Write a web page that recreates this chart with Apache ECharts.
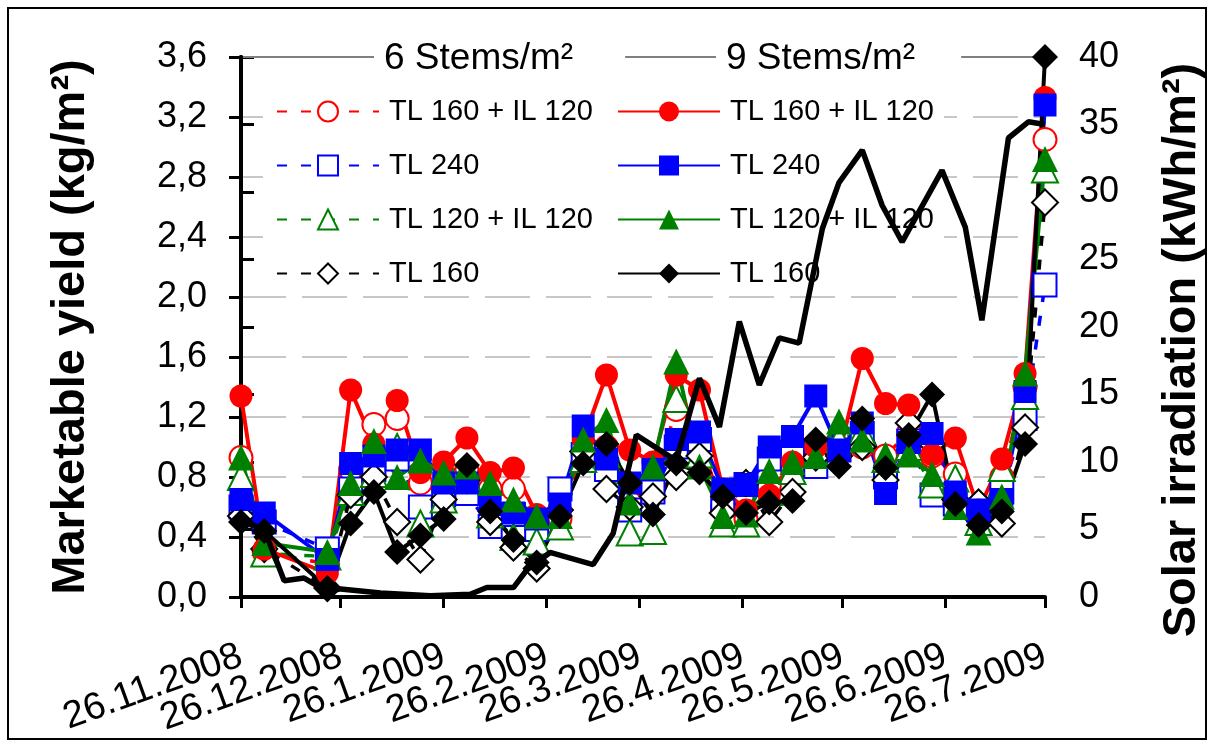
<!DOCTYPE html>
<html>
<head>
<meta charset="utf-8">
<script src="https://cdn.jsdelivr.net/npm/echarts@6/dist/echarts.min.js"></script>
<style>
  html, body { margin: 0; padding: 0; background: #fff; }
  #chart { width: 1214px; height: 747px; }
</style>
</head>
<body>
<div id="chart"></div>
<script>
// sample dates of the yield harvests
const sampleDates = [
  '2008-11-26', '2008-12-03', '2008-12-22', '2008-12-29', '2009-01-05', '2009-01-12',
  '2009-01-19', '2009-01-26', '2009-02-02', '2009-02-09', '2009-02-16', '2009-02-23',
  '2009-03-02', '2009-03-09', '2009-03-16', '2009-03-23', '2009-03-30', '2009-04-06',
  '2009-04-13', '2009-04-20', '2009-04-27', '2009-05-04', '2009-05-11', '2009-05-18',
  '2009-05-25', '2009-06-01', '2009-06-08', '2009-06-15', '2009-06-22', '2009-06-29',
  '2009-07-06', '2009-07-13', '2009-07-20', '2009-07-26'
]

// 6 stems/m2
const six_TL160_IL120 = [0.93, 0.30, 0.22, 0.85, 1.15, 1.19, 0.76, 0.72, 0.85, 0.72, 0.72, 0.45,
  0.52, 0.95, 1.00, 0.63, 0.75, 1.25, 1.05, 0.60, 0.52, 0.74, 0.85, 0.90, 0.95, 1.00, 0.94, 1.10,
  0.94, 0.82, 0.55, 0.80, 1.40, 3.05]
const six_TL240 = [0.60, 0.50, 0.32, 0.72, 0.85, 0.92, 0.60, 0.68, 0.69, 0.47, 0.55, 0.45,
  0.72, 0.95, 0.85, 0.58, 0.70, 1.00, 1.05, 0.63, 0.75, 0.92, 0.96, 0.87, 0.98, 1.09, 0.80, 1.04,
  0.68, 0.62, 0.58, 0.70, 1.19, 2.08]
const six_TL120_IL120 = [0.80, 0.29, 0.27, 0.70, 0.82, 1.00, 0.49, 0.65, 0.80, 0.55, 0.40, 0.37,
  0.47, 0.92, 0.95, 0.43, 0.44, 1.32, 0.95, 0.49, 0.49, 0.70, 0.84, 0.95, 1.05, 1.10, 0.92, 1.00,
  0.75, 0.79, 0.50, 0.86, 1.34, 2.85]
const six_TL160 = [0.54, 0.32, 0.06, 0.68, 0.80, 0.50, 0.25, 0.65, 0.78, 0.50, 0.33, 0.19,
  0.58, 0.97, 0.72, 0.60, 0.67, 0.80, 0.94, 0.56, 0.76, 0.50, 0.70, 0.93, 0.94, 1.00, 0.78, 1.16,
  1.02, 0.65, 0.63, 0.49, 1.13, 2.63]

// 9 stems/m2
const nine_TL160_IL120 = [1.34, 0.32, 0.16, 1.38, 1.02, 1.31, 0.83, 0.90, 1.06, 0.83, 0.86, 0.55,
  0.60, 1.05, 1.48, 0.98, 0.90, 1.48, 1.38, 0.72, 0.58, 0.68, 0.90, 1.00, 0.95, 1.59, 1.29, 1.28,
  0.95, 1.06, 0.58, 0.92, 1.49, 3.33]
const nine_TL240 = [0.65, 0.56, 0.25, 0.89, 0.94, 0.98, 0.98, 0.76, 0.76, 0.63, 0.56, 0.52,
  0.62, 1.14, 0.92, 0.76, 0.85, 1.05, 1.10, 0.72, 0.75, 1.00, 1.07, 1.34, 0.98, 1.16, 0.69, 1.03,
  1.09, 0.70, 0.58, 0.65, 1.37, 3.28]
const nine_TL120_IL120 = [0.93, 0.36, 0.30, 0.76, 1.04, 0.80, 0.91, 0.83, 0.87, 0.76, 0.65, 0.54,
  0.54, 1.05, 1.18, 0.63, 0.87, 1.57, 0.87, 0.54, 0.55, 0.84, 0.90, 0.94, 1.17, 1.05, 0.95, 0.95,
  0.82, 0.60, 0.43, 0.67, 1.49, 2.92]
const nine_TL160 = [0.50, 0.44, 0.06, 0.49, 0.70, 0.30, 0.41, 0.52, 0.88, 0.57, 0.38, 0.23,
  0.54, 0.89, 1.02, 0.76, 0.55, 0.89, 0.83, 0.67, 0.56, 0.63, 0.64, 1.05, 0.87, 1.19, 0.86, 1.08,
  1.35, 0.62, 0.48, 0.57, 1.02, 3.60]

// solar irradiation (kWh/m2)
const solarDates = [
  '2008-11-26', '2008-12-03', '2008-12-09', '2008-12-15', '2008-12-22', '2008-12-26',
  '2009-01-07', '2009-01-22', '2009-02-03', '2009-02-08', '2009-02-16', '2009-02-20',
  '2009-02-27', '2009-03-12', '2009-03-18', '2009-03-25', '2009-04-06', '2009-04-13',
  '2009-04-19', '2009-04-25', '2009-05-01', '2009-05-07', '2009-05-13', '2009-05-20',
  '2009-05-25', '2009-06-01', '2009-06-07', '2009-06-13', '2009-06-25', '2009-07-02',
  '2009-07-07', '2009-07-15', '2009-07-21', '2009-07-26'
]
const solar = [5.7, 5.0, 1.2, 1.4, 0.4, 0.6, 0.3, 0.1, 0.2, 0.7, 0.7, 2.0,
  3.3, 2.4, 4.7, 12.0, 10.1, 16.2, 12.6, 20.4, 15.7, 19.2, 18.8, 27.3,
  30.7, 33.1, 29.0, 26.3, 31.6, 27.4, 20.5, 34.0, 35.2, 35.0]

const tickDates = ['2008-11-26', '2008-12-26', '2009-01-26', '2009-02-26', '2009-03-26',
  '2009-04-26', '2009-05-26', '2009-06-26', '2009-07-26']

const FONT = 'Liberation Sans, Arial, sans-serif'
const T0 = Date.UTC(2008, 10, 26)

// days since 26.11.2008
function dayOf(s) {
  const p = s.split('-').map(Number)
  return (Date.UTC(p[0], p[1] - 1, p[2]) - T0) / 864e5
}
function dayLabel(v) {
  const t = new Date(T0 + v * 864e5)
  return t.getUTCDate() + '.' + (t.getUTCMonth() + 1) + '.' + t.getUTCFullYear()
}

function yieldSeries(key, values, color, symbol, open) {
  const size = symbol === 'circle' || symbol === 'rect' ? 23 : 26
  return {
    name: key,
    type: 'line',
    data: sampleDates.map((d, i) => [dayOf(d), values[i]]),
    symbol: symbol,
    symbolSize: size,
    showAllSymbol: true,
    lineStyle: { color: color, width: open ? 3.5 : 4, type: open ? [10, 14] : 'solid' },
    itemStyle: open ? { color: '#fff', borderColor: color, borderWidth: 2 } : { color: color },
    emphasis: { disabled: true },
    z: 2
  }
}

const series = [
  yieldSeries('6|TL 160 + IL 120', six_TL160_IL120, '#ff0000', 'circle', true),
  yieldSeries('6|TL 240', six_TL240, '#0000ff', 'rect', true),
  yieldSeries('6|TL 120 + IL 120', six_TL120_IL120, '#008000', 'triangle', true),
  yieldSeries('6|TL 160', six_TL160, '#000000', 'diamond', true),
  yieldSeries('9|TL 160 + IL 120', nine_TL160_IL120, '#ff0000', 'circle', false),
  yieldSeries('9|TL 240', nine_TL240, '#0000ff', 'rect', false),
  yieldSeries('9|TL 120 + IL 120', nine_TL120_IL120, '#008000', 'triangle', false),
  yieldSeries('9|TL 160', nine_TL160, '#000000', 'diamond', false),
  {
    name: 'Solar',
    type: 'line',
    yAxisIndex: 1,
    data: solarDates.map((d, i) => [dayOf(d), solar[i]]),
    symbol: 'none',
    lineStyle: { color: '#000', width: 5.5 },
    emphasis: { disabled: true },
    z: 3
  }
]

const legendBase = {
  orient: 'vertical',
  top: 91,
  itemWidth: 102,
  itemHeight: 25,
  itemGap: 25,
  padding: [6, 10, 6, 13],
  backgroundColor: '#fff',
  selectedMode: false,
  z: 1,
  formatter: n => n.split('|')[1],
  textStyle: { fontFamily: FONT, fontSize: 29, color: '#000', padding: [0, 0, 0, 5] }
}

// the tick labels overlap each other, so they are split over two axes
// (every other date) to keep ECharts from hiding any of them
const tickDays = tickDates.map(dayOf)
function dateAxis(labelDays, main) {
  return {
    type: 'value',
    position: 'bottom',
    min: 0,
    max: tickDays[tickDays.length - 1],
    axisLine: { show: main, lineStyle: { color: '#000', width: 4 } },
    axisTick: {
      show: main, length: 11, lineStyle: { color: '#000', width: 3 },
      customValues: tickDays
    },
    axisLabel: {
      customValues: labelDays,
      showMinLabel: true,
      showMaxLabel: true,
      hideOverlap: false,
      formatter: v => dayLabel(v),
      rotate: 20,
      margin: 58,
      fontFamily: FONT,
      fontSize: 38,
      color: '#000'
    },
    splitLine: { show: false }
  }
}

const chart = echarts.init(document.getElementById('chart'))
chart.setOption({
  animation: false,
  backgroundColor: '#fff',
  grid: {
    left: 241, right: 169, top: 57, bottom: 150,
    containLabel: false, outerBoundsMode: 'none'
  },
  legend: [
    Object.assign({}, legendBase, { left: 263, data: series.slice(0, 4).map(s => s.name) }),
    Object.assign({}, legendBase, { left: 604, data: series.slice(4, 8).map(s => s.name) })
  ],
  xAxis: [
    dateAxis(tickDays.filter((d, i) => i % 2 === 0), true),
    dateAxis(tickDays.filter((d, i) => i % 2 === 1), false)
  ],
  yAxis: [
    {
      type: 'value',
      min: 0, max: 3.6, interval: 0.4,
      name: 'Marketable yield (kg/m²)',
      nameLocation: 'middle',
      nameGap: 146,
      nameRotate: 90,
      nameTextStyle: { fontFamily: FONT, fontSize: 47, fontWeight: 'bold', color: '#000' },
      axisLine: { show: true, lineStyle: { color: '#000', width: 4 } },
      axisTick: { show: true, length: 12, lineStyle: { color: '#000', width: 3 } },
      axisLabel: {
        formatter: v => v.toFixed(1).replace('.', ','),
        margin: 34, fontFamily: FONT, fontSize: 36, color: '#000'
      },
      splitLine: { show: true, lineStyle: { color: '#c8c8c8', width: 2, type: [45, 16] } }
    },
    {
      type: 'value',
      min: 0, max: 40, interval: 5,
      position: 'right',
      name: 'Solar irradiation (kWh/m²)',
      nameLocation: 'middle',
      nameGap: 114,
      nameRotate: 90,
      nameTextStyle: {
        fontFamily: FONT, fontSize: 47, fontWeight: 'bold', color: '#000',
        padding: [0, 46, 0, 0]
      },
      axisLine: { show: true, lineStyle: { color: '#000', width: 4 } },
      axisTick: { show: true, length: 13, lineStyle: { color: '#000', width: 3 } },
      axisLabel: { margin: 34, fontFamily: FONT, fontSize: 36, color: '#000' },
      splitLine: { show: false }
    }
  ],
  graphic: [
    {
      type: 'rect', z: 0, silent: true,
      shape: { x: 8, y: 8, width: 1198, height: 731 },
      style: { fill: 'none', stroke: '#000', lineWidth: 2 }
    },
    {
      type: 'line', z: 1, silent: true,
      shape: { x1: 243, y1: 57, x2: 1045, y2: 57 },
      style: { stroke: '#808080', lineWidth: 2 }
    },
    {
      type: 'text', z: 5, silent: true, left: 374, top: 40,
      style: {
        text: '6 Stems/m²', font: '37px ' + FONT, fill: '#000',
        backgroundColor: '#fff', padding: [0, 52, 0, 10]
      }
    },
    {
      type: 'text', z: 5, silent: true, left: 716, top: 40,
      style: {
        text: '9 Stems/m²', font: '37px ' + FONT, fill: '#000',
        backgroundColor: '#fff', padding: [0, 46, 0, 10]
      }
    }
  ],
  series: series
})
</script>
</body>
</html>
